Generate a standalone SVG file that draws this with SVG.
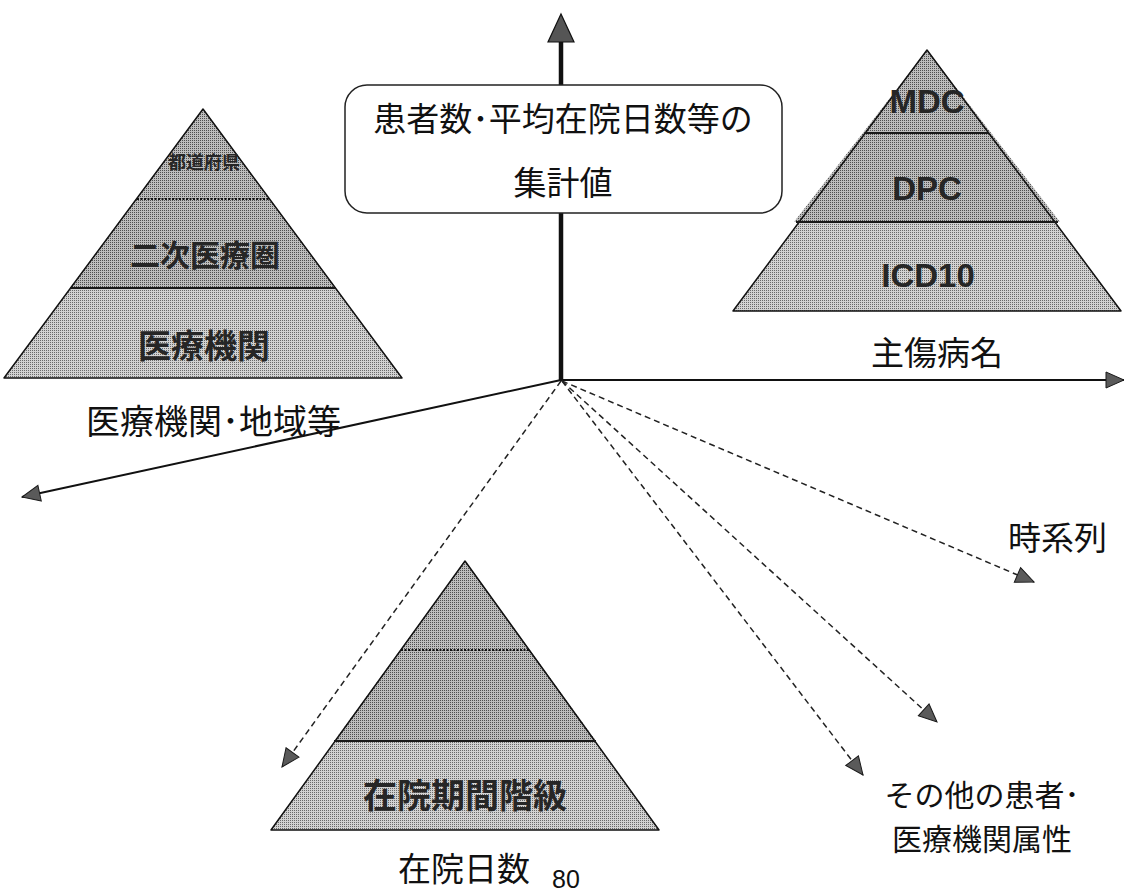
<svg xmlns="http://www.w3.org/2000/svg" width="1125" height="895" viewBox="0 0 1125 895">
<style>
.jp{font-family:"Noto Sans CJK JP","Noto Sans",sans-serif;fill:#111}
.lbl{font-size:33px}
.pt{font-family:"Noto Sans CJK JP","Liberation Sans",sans-serif;font-weight:bold;fill:#262626;text-anchor:middle}
.en{font-family:"Liberation Sans",Arial,sans-serif;font-weight:bold;fill:#262626;text-anchor:middle;font-size:33px}
.tri{stroke:#111;stroke-width:1.5;stroke-linejoin:round}
.solid{stroke:#1a1a1a;stroke-width:1.8}
.dot{stroke:#111;stroke-width:2.2;stroke-dasharray:2 1.5}
.axis{stroke:#111;fill:none}
.dash{stroke:#222;stroke-width:1.5;stroke-dasharray:6 4;fill:none}
</style>
<defs>
<pattern id="pd" width="2" height="2" patternUnits="userSpaceOnUse"><rect width="2" height="2" fill="#bdbdbd"/><rect width="1" height="1" fill="#4f4f4f"/></pattern>
<pattern id="pl" width="2" height="2" patternUnits="userSpaceOnUse"><rect width="2" height="2" fill="#d2d2d2"/><rect width="1" height="1" fill="#6a6a6a"/></pattern>
<marker id="ah" viewBox="0 0 20 18" markerWidth="20" markerHeight="18" refX="19" refY="9" orient="auto" markerUnits="userSpaceOnUse"><path d="M1,1 L19,9 L1,17 Z" fill="#5a5a5a" stroke="#1a1a1a" stroke-width="1"/></marker>
</defs>

<g id="connectors">
<line class="axis" x1="561" y1="381" x2="561" y2="40" stroke-width="4.5"/>
<polygon points="561,14 574,42 548,42" fill="#555" stroke="#111" stroke-width="1.2"/>
<line class="axis" x1="561" y1="380" x2="1124" y2="380" stroke-width="2" marker-end="url(#ah)"/>
<line class="axis" x1="561" y1="380" x2="22" y2="497" stroke-width="2" marker-end="url(#ah)"/>
<line class="dash" x1="561" y1="381" x2="282" y2="767" marker-end="url(#ah)"/>
<line class="dash" x1="562" y1="381" x2="1034" y2="582" marker-end="url(#ah)"/>
<line class="dash" x1="562" y1="381" x2="937" y2="722" marker-end="url(#ah)"/>
<line class="dash" x1="562" y1="381" x2="863" y2="775" marker-end="url(#ah)"/>
</g>

<g id="box">
<rect x="345" y="85" width="437" height="128" rx="22" fill="#fff" stroke="#222" stroke-width="1.5"/>
<text class="jp" x="563" y="131" font-size="33" text-anchor="middle">患者数･平均在院日数等の</text>
<text class="jp" x="563" y="195" font-size="33" text-anchor="middle">集計値</text>
</g>

<g id="pyramid-left">
<polygon points="203,109 402,378 4,378" fill="url(#pl)"/>
<polygon points="203,109 336,288 70,288" fill="url(#pd)"/>
<polygon class="tri" points="203,109 402,378 4,378" fill="none"/>
<line class="dot" x1="137" y1="199" x2="269" y2="199"/>
<line class="solid" x1="70" y1="288" x2="336" y2="288"/>
<text class="pt" x="204" y="169" font-size="18">都道府県</text>
<text class="pt" x="205" y="266" font-size="30">二次医療圏</text>
<text class="pt" x="204" y="358" font-size="33">医療機関</text>
</g>
<text id="label-region" class="jp" font-size="34" x="86" y="434">医療機関･地域等</text>

<g id="pyramid-right">
<polygon points="927,50 1121,311 733,311" fill="url(#pl)"/>
<polygon points="927,50 1060,222 794,222" fill="url(#pd)"/>
<polygon class="tri" points="927,50 1121,311 733,311" fill="none"/>
<line class="solid" x1="865" y1="133" x2="989" y2="133"/>
<line class="solid" x1="796" y1="222" x2="1058" y2="222"/>
<text class="en" x="927" y="113" font-size="32">MDC</text>
<text class="en" x="927" y="200" font-size="32">DPC</text>
<text class="en" x="928" y="287">ICD10</text>
</g>
<text id="label-disease" class="jp lbl" x="937" y="365" text-anchor="middle">主傷病名</text>

<g id="pyramid-bottom">
<polygon points="465,561 659,830 271,830" fill="url(#pl)"/>
<polygon points="465,561 596,741 334,741" fill="url(#pd)"/>
<polygon class="tri" points="465,561 659,830 271,830" fill="none"/>
<line class="dot" x1="401" y1="650" x2="529" y2="650"/>
<line class="solid" x1="334" y1="741" x2="596" y2="741"/>
<text class="pt" x="465" y="808" font-size="34">在院期間階級</text>
</g>
<text id="label-los" class="jp lbl" x="398" y="881">在院日数</text>
<text id="page" x="552" y="888" font-family="Liberation Sans, Arial, sans-serif" font-size="25" fill="#111">80</text>

<text id="label-time" class="jp lbl" x="1008" y="550">時系列</text>
<g id="label-other">
<text class="jp" font-size="30" x="982" y="806" text-anchor="middle">その他の患者･</text>
<text class="jp" font-size="30" x="982" y="850" text-anchor="middle">医療機関属性</text>
</g>
</svg>
